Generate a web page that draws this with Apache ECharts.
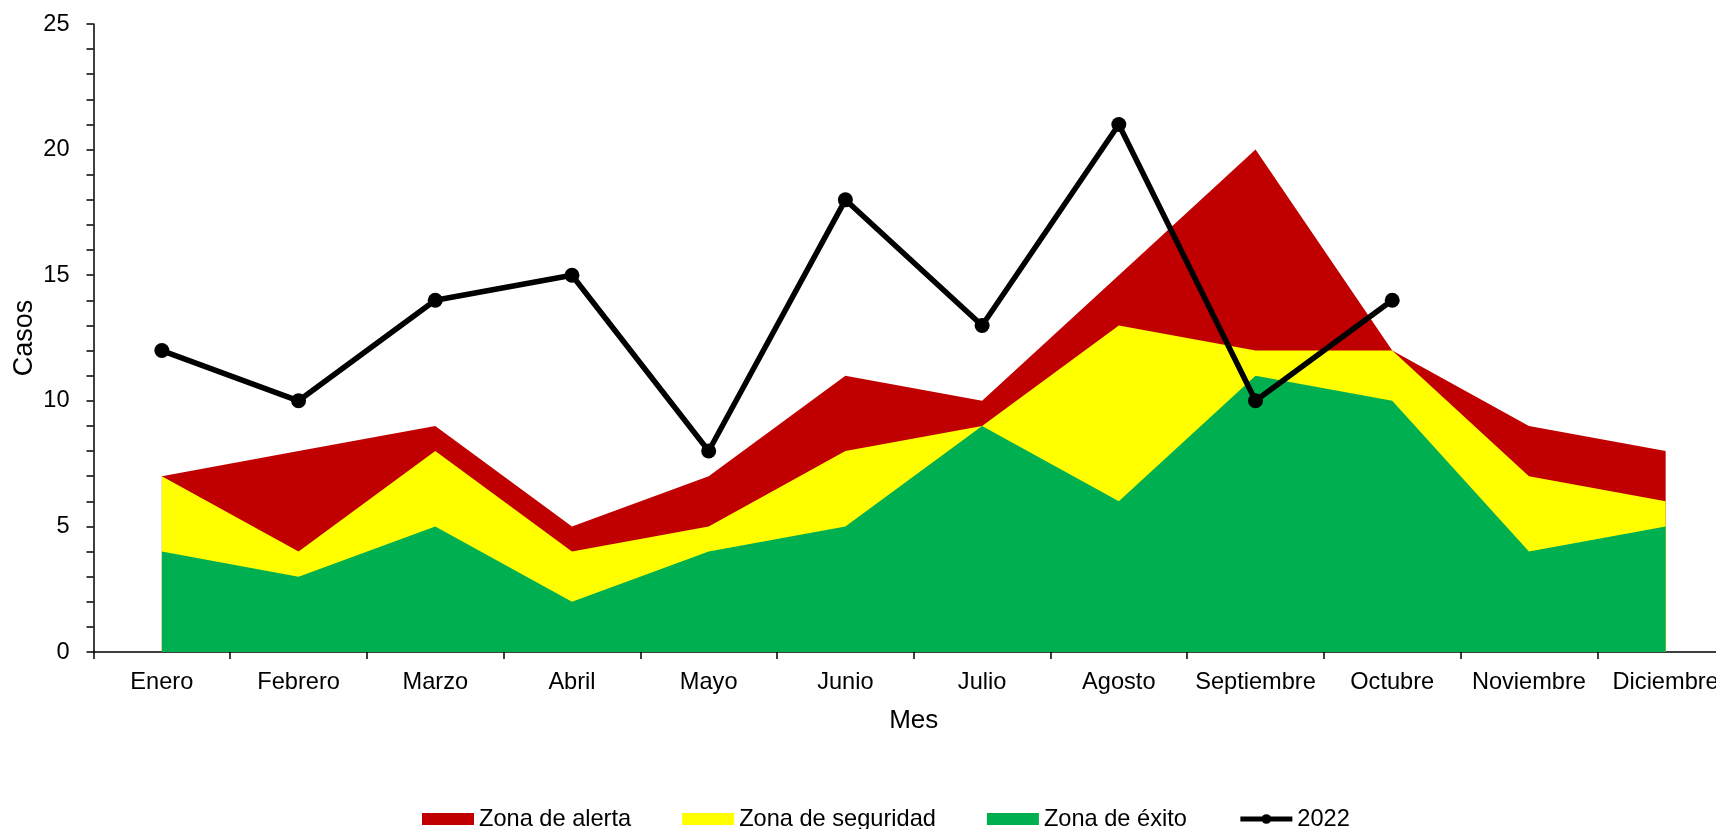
<!DOCTYPE html>
<html>
<head>
<meta charset="utf-8">
<script src="https://cdn.jsdelivr.net/npm/echarts@6/dist/echarts.min.js"></script>
<style>
html,body{margin:0;padding:0;background:#fff;}
#chart{width:1716px;height:829px;}
</style>
</head>
<body>
<div id="chart"></div>
<script>
var months = ['Enero','Febrero','Marzo','Abril','Mayo','Junio','Julio','Agosto','Septiembre','Octubre','Noviembre','Diciembre'];
var zonaAlerta    = [7, 8, 9, 5, 7, 11, 10, 15, 20, 12, 9, 8];
var zonaSeguridad = [7, 4, 8, 4, 5, 8, 9, 13, 12, 12, 7, 6];
var zonaExito     = [4, 3, 5, 2, 4, 5, 9, 6, 11, 10, 4, 5];
var casos2022     = [12, 10, 14, 15, 8, 18, 13, 21, 10, 14, null, null];
var yTicks = [0, 5, 10, 15, 20, 25];

var FONT = '"Liberation Sans", Arial, sans-serif';
var FS = 23.6;
var chart = echarts.init(document.getElementById('chart'));

function areaSeries(name, data, color) {
  return {
    name: name, type: 'line', data: data,
    showSymbol: false, symbol: 'none',
    lineStyle: { width: 0, color: color },
    itemStyle: { color: color },
    areaStyle: { color: color, opacity: 1 },
    emphasis: { disabled: true },
    animation: false
  };
}

chart.setOption({
  animation: false,
  textStyle: { fontFamily: FONT, color: '#000' },
  grid: { left: 93.5, top: 24, bottom: 177, right: -18, containLabel: false, outerBoundsMode: 'none' },
  legend: {
    left: 417, top: 802,
    itemWidth: 52, itemHeight: 12, itemGap: 51,
    textStyle: { fontSize: FS, fontFamily: FONT, color: '#000' },
    data: [
      { name: 'Zona de alerta', icon: 'rect' },
      { name: 'Zona de seguridad', icon: 'rect' },
      { name: 'Zona de éxito', icon: 'rect' },
      { name: '2022', lineStyle: { width: 5, color: '#000' } }
    ]
  },
  xAxis: {
    type: 'category', data: months, boundaryGap: true,
    name: 'Mes', nameLocation: 'middle', nameGap: 56, nameMoveOverlap: false,
    nameTextStyle: { fontSize: 26, fontFamily: FONT, color: '#000' },
    axisLine: { lineStyle: { color: '#000', width: 1.5 } },
    axisTick: { show: true, length: 7, inside: false, alignWithLabel: false, lineStyle: { color: '#000', width: 1.5 } },
    axisLabel: { interval: 0, fontSize: FS, fontFamily: FONT, color: '#000', margin: 18 },
    splitLine: { show: false }
  },
  yAxis: {
    type: 'value', min: 0, max: 25, interval: 5,
    name: 'Casos', nameLocation: 'middle', nameGap: 55, nameRotate: 90, nameMoveOverlap: false,
    nameTextStyle: { fontSize: 27, fontFamily: FONT, color: '#000' },
    axisLine: { show: true, lineStyle: { color: '#000', width: 1.5 } },
    axisTick: { show: true, length: 7, inside: false, lineStyle: { color: '#000', width: 1.5 } },
    minorTick: { show: true, splitNumber: 5, length: 7, lineStyle: { color: '#000', width: 1.5 } },
    axisLabel: { fontSize: FS, fontFamily: FONT, color: '#000', margin: 24,
      formatter: function (v) { return yTicks.indexOf(v) >= 0 ? String(v) : ''; } },
    splitLine: { show: false }
  },
  series: [
    areaSeries('Zona de alerta', zonaAlerta, '#C00000'),
    areaSeries('Zona de seguridad', zonaSeguridad, '#FFFF00'),
    areaSeries('Zona de éxito', zonaExito, '#00B050'),
    {
      name: '2022', type: 'line', data: casos2022,
      symbol: 'circle', symbolSize: 15, showSymbol: true,
      lineStyle: { color: '#000', width: 5.5 },
      itemStyle: { color: '#000' },
      connectNulls: false, z: 5
    }
  ]
});
</script>
</body>
</html>
